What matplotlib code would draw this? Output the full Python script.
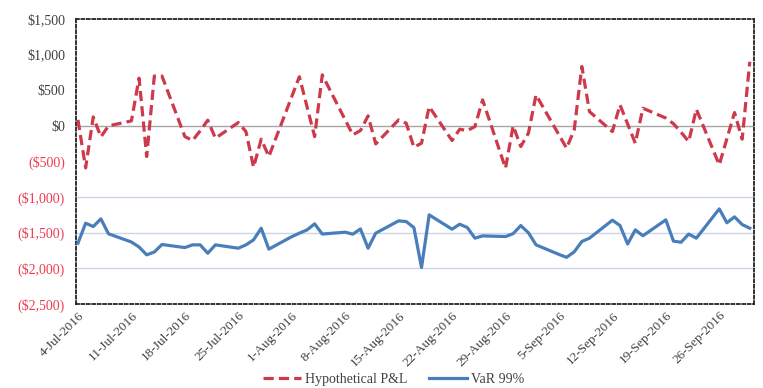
import matplotlib
matplotlib.use("Agg")
import matplotlib.pyplot as plt
import matplotlib.dates as mdates
import pandas as pd
import numpy as np

dates = pd.bdate_range("2016-07-04", "2016-09-30")

pnl = [84, -590, 126, -154, 0,
       70, 670, -430, 700, 700,
       -150, -206, -70, 80, -173,
       47, -80, -580, -187, -430,
       410, 690, 270, -150, 716,
       84, -126, -66, 140, -253,
       84, 37, -300, -243, 270,
       -206, -47, -66, -9, 365,
       -594, 0, -290, -103, 435,
       -126, -313, -56, 833, 200,
       -80, 295, 26, -243, 248,
       110, 30, -90, -220, 234,
       -547, -180, 187, -187, 900]

var99 = [-1646, -1366, -1413, -1305, -1515,
         -1630, -1700, -1810, -1770, -1665,
         -1708, -1670, -1670, -1787, -1670,
         -1717, -1670, -1600, -1436, -1730,
         -1555, -1506, -1460, -1375, -1518,
         -1492, -1520, -1446, -1717, -1506,
         -1333, -1343, -1427, -1988, -1249,
         -1450, -1380, -1427, -1576, -1544,
         -1553, -1513, -1399, -1500, -1670,
         -1804, -1845, -1768, -1623, -1576,
         -1324, -1399, -1658, -1460, -1542,
         -1319, -1618, -1633, -1518, -1576,
         -1165, -1360, -1277, -1385, -1436]

yticks = [1500, 1000, 500, 0, -500, -1000, -1500, -2000, -2500]
ytick_labels = ["$1,500", "$1,000", "$500", "$0", "($500)", "($1,000)",
                "($1,500)", "($2,000)", "($2,500)"]
xtick_dates = pd.date_range("2016-07-04", "2016-09-26", freq="7D")
xtick_labels = [f"{d.day}-{d.strftime('%b')}-{d.year}" for d in xtick_dates]

RED = "#CC3A4C"
BLUE = "#4A7EBB"
NEG = "#EE3B52"
GRAY = "#404040"
FONT = "Liberation Serif"

fig = plt.figure(figsize=(7.63, 3.88), dpi=100)
ax = fig.add_axes([0.0996, 0.2165, 0.8884, 0.7345])

# grid lines
for g in [-1000, -1500, -2000]:
    ax.axhline(g, color="#C9D5E8", lw=1.0, zorder=1)
ax.axhline(0, color="#A6A6A6", lw=1.0, zorder=1)

ax.plot(dates, pnl, color=RED, lw=2.3, dashes=(3.2, 1.6), label="Hypothetical P&L", zorder=3)
ax.plot(dates, var99, color=BLUE, lw=2.3, label="VaR 99%", zorder=3)

x0 = mdates.date2num(pd.Timestamp("2016-07-04"))
ax.set_xlim(x0 - 0.26, x0 + 88.53)
ax.set_ylim(-2500, 1500)

ax.set_yticks(yticks)
ax.set_yticklabels(ytick_labels, fontname=FONT, fontsize=10)
for lab, v in zip(ax.get_yticklabels(), yticks):
    lab.set_color(NEG if v < 0 else GRAY)

ax.set_xticks(mdates.date2num(xtick_dates))
ax.set_xticklabels(xtick_labels, rotation=45, ha="right", rotation_mode="anchor",
                   fontname=FONT, fontsize=9.5, color=GRAY)
ax.tick_params(axis="both", length=0)
ax.tick_params(axis="y", pad=8)
ax.tick_params(axis="x", pad=4)

for s in ax.spines.values():
    s.set_linestyle((0, (1.6, 1.4)))
    s.set_linewidth(1.3)
    s.set_color("#222222")

leg = fig.legend(loc="center", bbox_to_anchor=(0.516, 0.022), ncol=2, frameon=False,
                 prop={"family": FONT, "size": 10}, handlelength=2.7,
                 handletextpad=0.3, columnspacing=1.6)
for t in leg.get_texts():
    t.set_color(GRAY)

fig.savefig("out.png", dpi=100)
